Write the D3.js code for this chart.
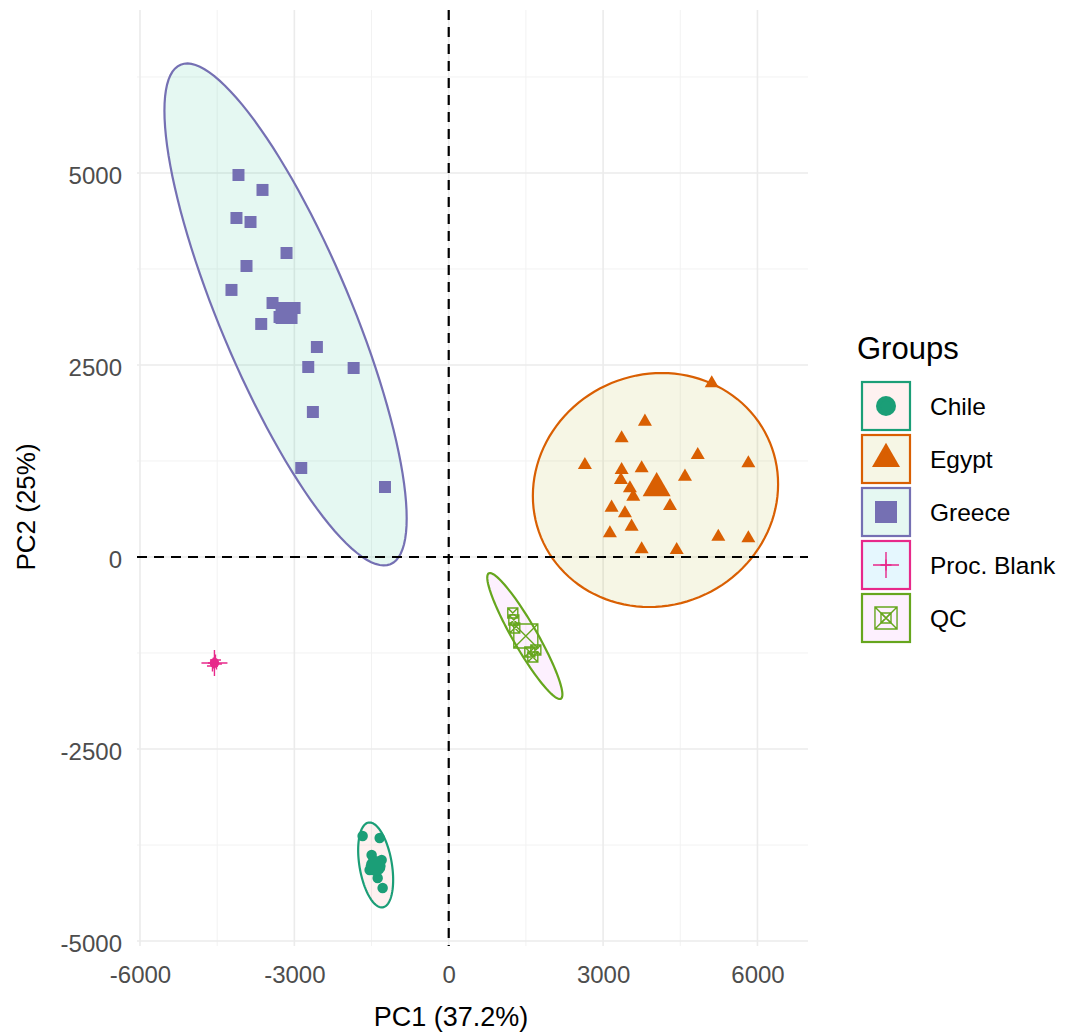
<!DOCTYPE html>
<html>
<head>
<meta charset="utf-8">
<script src="https://cdn.jsdelivr.net/npm/d3@7"></script>
<style>
  body { margin: 0; background: #fff; }
  text { font-family: "Liberation Sans", Arial, sans-serif; }
</style>
</head>
<body>
<svg class="pca" width="1070" height="1035"></svg>
<script>

var groups = ["Chile", "Egypt", "Greece", "Proc. Blank", "QC"];
var lineColors = ["#1B9E77", "#D95F02", "#7570B3", "#E7298A", "#66A61E"];
var fillColors = ["#F8766D", "#A3A500", "#00BF7D", "#00B0F6", "#E76BF3"];
var shapes = ["circle", "triangle", "square", "plus", "squarex"];

var xTicks = [-6000, -3000, 0, 3000, 6000];
var yTicks = [-5000, -2500, 0, 2500, 5000];

// sample scores, one pair of arrays per group
var chilePC1 = [-1673, -1342, -1498, -1304, -1537, -1381, -1459, -1284];
var chilePC2 = [-3633, -3659, -3880, -3945, -4076, -4180, -4023, -4310];

var egyptPC1 = [5111, 3813, 3360, 2646, 3360, 3749, 4839, 5823, 4591, 3521, 3586,
                4300, 3165, 3424, 3554, 3132, 5239, 5823, 3749, 4430, 3346];
var egyptPC2 = [2262, 1762, 1546, 1198, 1133, 1155, 1328, 1220, 1046, 895, 785,
                664, 642, 569, 395, 309, 264, 243, 100, 91, 1003];

var greecePC1 = [-4086, -3619, -4125, -3852, -3152, -3930, -4222, -3424, -3288, -2996,
                 -3644, -2562, -2730, -1848, -2640, -2866, -1239];
var greecePC2 = [4974, 4779, 4414, 4362, 3958, 3789, 3477, 3307, 3125, 3242,
                 3034, 2734, 2474, 2461, 1888, 1159, 911];

var blankPC1 = [-4572, -4533, -4591, -4514];
var blankPC2 = [-1380, -1341, -1419, -1393];

var qcPC1 = [1245, 1265, 1284, 1576, 1634, 1693];
var qcPC2 = [-729, -820, -924, -1237, -1302, -1211];

// group means (big symbols)
var centroidPC1 = [-1420, 4041, -3152, -4553, 1498];
var centroidPC2 = [-4023, 895, 3177, -1380, -1029];

// confidence ellipses: centre, half extent on each axis, correlation
var ellCX = [-1420, 4018, -3171, -4553, 1479];
var ellCY = [-4010, 872, 3158, -1380, -1029];
var ellHX = [340, 2383, 2354, 70, 730];
var ellHY = [553, 1523, 3268, 50, 820];
var ellR  = [-0.35, 0.05, -0.812, 0, -0.928];

var scores = [
  [chilePC1, chilePC2],
  [egyptPC1, egyptPC2],
  [greecePC1, greecePC2],
  [blankPC1, blankPC2],
  [qcPC1, qcPC2]
];

var smallSize = [10.5, 14, 12, 11, 10];
var bigSize = [20, 28, 22, 26, 24];

var svg = d3.select("svg.pca");

var x = d3.scaleLinear().domain([-6058, 6982]).range([137, 808]);
var y = d3.scaleLinear().domain([-5065, 7122]).range([946, 10]);

// minor grid sits half way between the major ticks
var xMinor = [], yMinor = [];
for (var i = 0; i < xTicks.length - 1; i++) xMinor.push((xTicks[i] + xTicks[i + 1]) / 2);
for (var i = 0; i < yTicks.length - 1; i++) yMinor.push((yTicks[i] + yTicks[i + 1]) / 2);
yMinor.push(yTicks[yTicks.length - 1] + 1250);

var grid = svg.append("g").attr("class", "grid");
grid.selectAll("line.xminor").data(xMinor).enter().append("line")
    .attr("x1", x).attr("x2", x).attr("y1", 10).attr("y2", 946)
    .attr("stroke", "#f2f2f2").attr("stroke-width", 1);
grid.selectAll("line.yminor").data(yMinor).enter().append("line")
    .attr("y1", y).attr("y2", y).attr("x1", 137).attr("x2", 808)
    .attr("stroke", "#f2f2f2").attr("stroke-width", 1);
grid.selectAll("line.xmajor").data(xTicks).enter().append("line")
    .attr("x1", x).attr("x2", x).attr("y1", 10).attr("y2", 946)
    .attr("stroke", "#ebebeb").attr("stroke-width", 1.6);
grid.selectAll("line.ymajor").data(yTicks).enter().append("line")
    .attr("y1", y).attr("y2", y).attr("x1", 137).attr("x2", 808)
    .attr("stroke", "#ebebeb").attr("stroke-width", 1.6);

// ellipses
function ellipsePoints(i) {
  var pts = [], k = Math.sqrt(1 - ellR[i] * ellR[i]);
  for (var j = 0; j <= 120; j++) {
    var t = j / 120 * 2 * Math.PI;
    pts.push([ellCX[i] + ellHX[i] * Math.cos(t),
              ellCY[i] + ellHY[i] * (ellR[i] * Math.cos(t) + k * Math.sin(t))]);
  }
  return pts;
}
var ellLine = d3.line().x(function(d) { return x(d[0]); }).y(function(d) { return y(d[1]); });

svg.append("g").selectAll("path")
    .data(groups)
  .enter().append("path")
    .attr("d", function(d, i) { return ellLine(ellipsePoints(i)) + "Z"; })
    .attr("fill", function(d, i) { return fillColors[i]; })
    .attr("fill-opacity", 0.1)
    .attr("stroke", function(d, i) { return lineColors[i]; })
    .attr("stroke-width", 2.2);

// reference lines at zero
svg.append("line")
    .attr("x1", x(0)).attr("x2", x(0)).attr("y1", 10).attr("y2", 946)
    .attr("stroke", "#000").attr("stroke-width", 2.2).attr("stroke-dasharray", "10,7");
svg.append("line")
    .attr("x1", 137).attr("x2", 808).attr("y1", y(0)).attr("y2", y(0))
    .attr("stroke", "#000").attr("stroke-width", 2.2).attr("stroke-dasharray", "10,7");

// symbol paths, s = width in px
function symbolPath(shape, s) {
  var h = s / 2;
  if (shape == "circle") return d3.symbol(d3.symbolCircle, Math.PI * s * s / 4)();
  if (shape == "triangle") return d3.symbol(d3.symbolTriangle, Math.sqrt(3) / 4 * s * s)();
  if (shape == "square") return d3.symbol(d3.symbolSquare, s * s)();
  if (shape == "plus") return "M" + (-h) + ",0H" + h + "M0," + (-h) + "V" + h;
  return "M" + (-h) + "," + (-h) + "H" + h + "V" + h + "H" + (-h) + "Z" +
         "M" + (-h) + "," + (-h) + "L" + h + "," + h +
         "M" + h + "," + (-h) + "L" + (-h) + "," + h;
}
function styleSymbol(sel, i) {
  var open = shapes[i] == "plus" || shapes[i] == "squarex";
  sel.attr("fill", open ? "none" : lineColors[i])
     .attr("stroke", open ? lineColors[i] : "none")
     .attr("stroke-width", open ? 1.4 : 0);
}

var pointsG = svg.append("g").attr("class", "points");
groups.forEach(function(g, i) {
  var pts = scores[i][0].map(function(v, j) { return [v, scores[i][1][j]]; });
  var sel = pointsG.append("g").selectAll("path")
      .data(pts)
    .enter().append("path")
      .attr("transform", function(d) { return "translate(" + x(d[0]) + "," + y(d[1]) + ")"; })
      .attr("d", symbolPath(shapes[i], smallSize[i]));
  styleSymbol(sel, i);
});

// group means
groups.forEach(function(g, i) {
  var c = pointsG.append("path")
      .attr("transform", "translate(" + x(centroidPC1[i]) + "," + y(centroidPC2[i]) + ")")
      .attr("d", symbolPath(shapes[i], bigSize[i]));
  styleSymbol(c, i);
});

// axes
var fmt = function(d) { return d3.format("d")(d).replace("\u2212", "-"); };
var xAxis = svg.append("g")
    .attr("transform", "translate(0,946)")
    .call(d3.axisBottom(x).tickValues(xTicks).tickSize(0).tickPadding(20).tickFormat(fmt));
var yAxis = svg.append("g")
    .attr("transform", "translate(137,0)")
    .call(d3.axisLeft(y).tickValues(yTicks).tickSize(0).tickPadding(15).tickFormat(fmt));
[xAxis, yAxis].forEach(function(a) {
  a.select(".domain").remove();
  a.selectAll("text")
      .attr("fill", "#4d4d4d")
      .style("font-size", "24px")
      .style("font-family", "'Liberation Sans', Arial, sans-serif");
});
yAxis.selectAll("text").attr("dy", "0.42em");

svg.append("text")
    .attr("x", 451).attr("y", 1026)
    .attr("text-anchor", "middle")
    .style("font-size", "27px")
    .text("PC1 (37.2%)");
svg.append("text")
    .attr("transform", "translate(35,507) rotate(-90)")
    .attr("text-anchor", "middle")
    .style("font-size", "26px")
    .text("PC2 (25%)");

// legend
var legend = svg.append("g").attr("class", "legend");
legend.append("text")
    .attr("x", 857).attr("y", 359)
    .style("font-size", "31px")
    .text("Groups");

var key = legend.selectAll("g.key")
    .data(groups)
  .enter().append("g")
    .attr("class", "key")
    .attr("transform", function(d, i) { return "translate(861," + (381 + i * 53) + ")"; });

key.append("rect")
    .attr("x", 1).attr("y", 1).attr("width", 48).attr("height", 48)
    .attr("fill", function(d, i) { return fillColors[i]; })
    .attr("fill-opacity", 0.1)
    .attr("stroke", function(d, i) { return lineColors[i]; })
    .attr("stroke-width", 2.2);

key.each(function(d, i) {
  var k = d3.select(this);
  [bigSize[i] * (shapes[i] == "squarex" ? 0.92 : 1), smallSize[i]].forEach(function(s) {
    var p = k.append("path")
        .attr("transform", "translate(25,25)")
        .attr("d", symbolPath(shapes[i], s));
    styleSymbol(p, i);
  });
});

key.append("text")
    .attr("x", 69).attr("y", 25).attr("dy", "0.36em")
    .style("font-size", "24.5px")
    .text(function(d) { return d; });

</script>
</body>
</html>
